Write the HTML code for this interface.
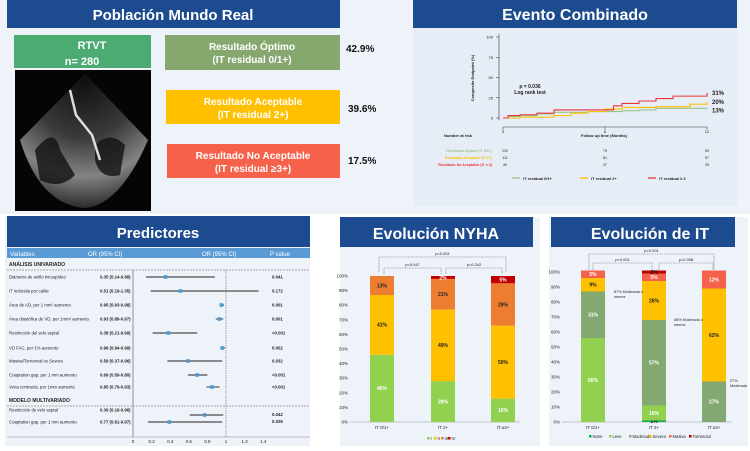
<!DOCTYPE html>
<html><head><meta charset="utf-8"><style>
body{margin:0;width:750px;height:446px;overflow:hidden;background:#fff;font-family:"Liberation Sans",sans-serif}
svg text{font-family:"Liberation Sans",sans-serif}
</style></head><body>
<svg id="s" width="750" height="446" viewBox="0 0 750 446" xmlns="http://www.w3.org/2000/svg">
<defs>
<radialGradient id="fan" cx="0.5" cy="0.05" r="0.95">
<stop offset="0" stop-color="#111"/><stop offset="0.45" stop-color="#444"/><stop offset="0.75" stop-color="#9a9a9a"/><stop offset="1" stop-color="#333"/>
</radialGradient>
</defs>
<rect x="0" y="0" width="750" height="214" fill="#eef3fa"/>
<!-- Panel 1 -->
<rect x="7" y="0" width="333" height="28" fill="#1d4b8f"/>
<text x="173" y="20" font-size="15" font-weight="bold" fill="#fff" text-anchor="middle">Población Mundo Real</text>
<rect x="14" y="35" width="137" height="33" fill="#4caa73"/>
<text x="92" y="49" font-size="11" font-weight="bold" fill="#fff" text-anchor="middle">RTVT</text>
<text x="82" y="65" font-size="11" font-weight="bold" fill="#fff" text-anchor="middle">n= 280</text>
<rect x="15" y="70" width="136" height="141" fill="#050505"/>
<path d="M85 74 L148 140 Q120 205 85 208 Q40 205 20 140 Z" fill="url(#fan)" opacity="0.85"/>
<path d="M35 150 Q55 125 60 150 L75 175 Q60 190 40 180 Z M95 145 Q110 130 125 145 L120 175 Q100 180 95 160 Z" fill="#111" opacity="0.8"/>
<path d="M70 90 L76 115 L92 135 L100 160" stroke="#ddd" stroke-width="2.5" fill="none"/>
<rect x="165" y="35" width="175" height="35" fill="#86a86f"/>
<text x="252" y="50" font-size="10" font-weight="bold" fill="#fff" text-anchor="middle">Resultado Óptimo</text>
<text x="252" y="63" font-size="10" font-weight="bold" fill="#fff" text-anchor="middle">(IT residual 0/1+)</text>
<text x="346" y="52" font-size="10" font-weight="bold" fill="#111">42.9%</text>
<rect x="166" y="90" width="174" height="34" fill="#ffc000"/>
<text x="253" y="105" font-size="10" font-weight="bold" fill="#fff" text-anchor="middle">Resultado Aceptable</text>
<text x="253" y="118" font-size="10" font-weight="bold" fill="#fff" text-anchor="middle">(IT residual 2+)</text>
<text x="348" y="112" font-size="10" font-weight="bold" fill="#111">39.6%</text>
<rect x="167" y="144" width="173" height="34" fill="#f5614a"/>
<text x="253" y="159" font-size="10" font-weight="bold" fill="#fff" text-anchor="middle">Resultado No Aceptable</text>
<text x="253" y="172" font-size="10" font-weight="bold" fill="#fff" text-anchor="middle">(IT residual ≥3+)</text>
<text x="348" y="164" font-size="10" font-weight="bold" fill="#111">17.5%</text>
<!-- Panel 2 -->
<rect x="413" y="28" width="324" height="178" fill="#e6edf7"/>
<rect x="413" y="0" width="324" height="28" fill="#1d4b8f"/>
<text x="575" y="20" font-size="16" font-weight="bold" fill="#fff" text-anchor="middle">Evento Combinado</text>
<g id="km"></g>
<!-- Bottom panels -->
<rect x="5" y="216" width="305" height="230" fill="#eef3fa"/>
<rect x="7" y="216" width="303" height="31" fill="#1d4b8f"/>
<text x="158" y="238" font-size="15" font-weight="bold" fill="#fff" text-anchor="middle">Predictores</text>
<rect x="7" y="248" width="303" height="10" fill="#5b9bd5"/>
<text x="10" y="256" font-size="6" fill="#fff">Variables</text>
<text x="88" y="256" font-size="6" fill="#fff">OR (95% CI)</text>
<text x="202" y="256" font-size="6" fill="#fff">OR (95% CI)</text>
<text x="270" y="256" font-size="6" fill="#fff">P value</text>
<text x="9" y="266" font-size="5" font-weight="bold" fill="#222">ANÁLISIS UNIVARIADO</text>
<line x1="7" y1="270" x2="310" y2="270" stroke="#555" stroke-width="0.6" stroke-dasharray="2,1"/>
<text x="9" y="402" font-size="5" font-weight="bold" fill="#222">MODELO MULTIVARIADO</text>
<line x1="7" y1="406" x2="310" y2="406" stroke="#555" stroke-width="0.6" stroke-dasharray="2,1"/>
<g id="forest"></g>

<rect x="340" y="217" width="200" height="229" fill="#eef3fa"/>
<rect x="340" y="217" width="193" height="30" fill="#1d4b8f"/>
<text x="436" y="239" font-size="16" font-weight="bold" fill="#fff" text-anchor="middle">Evolución NYHA</text>
<g id="nyha"></g>

<rect x="549" y="217" width="199" height="229" fill="#eef3fa"/>
<rect x="551" y="217" width="184" height="30" fill="#1d4b8f"/>
<text x="650" y="239" font-size="16" font-weight="bold" fill="#fff" text-anchor="middle">Evolución de IT</text>
<g id="itc"></g>
</svg>
<script>
const NS="http://www.w3.org/2000/svg";
function mk(p,t,a){const e=document.createElementNS(NS,t);for(const k in a)e.setAttribute(k,a[k]);p.appendChild(e);return e;}
function tx(p,x,y,s,o){const e=mk(p,'text',Object.assign({x:x,y:y,'font-size':5,fill:'#222'},o||{}));e.textContent=s;return e;}

// ===== KM chart data =====
const kmYTicks=[0,25,50,75,100];
const kmXTicks=[0,6,12];
const kmGreenT=[0,0.3,1,2,3,5,7,8,9,12];
const kmGreenV=[0,2,3,5,7,8,9,10,12,13];
const kmYellowT=[0,1,3,4,5,6,7,9,11,12];
const kmYellowV=[0,1,3,6,8,11,13,14,17,20];
const kmRedT=[0,0.3,1,2,3,6,6.5,7,8,9,10,12];
const kmRedV=[0,3,4,6,10,10,15,18,21,24,27,31];
const kmEndLabels=['13%','20%','31%'];
const riskGroups=['Resultado Óptimo (IT 0/1+)','Resultado Aceptable (IT 2+)','Resultado No Aceptable (IT ≥ 3)'];
const riskCounts=[[120,79,59],[111,81,57],[49,37,25]];
const kmX=m=>503+m*(204/12), kmY=v=>118-v*0.81;
const km=document.getElementById('km');
let e=mk(km,'line',{x1:499,y1:34,x2:499,y2:120,stroke:'#333','stroke-width':0.6});


e=mk(km,'line',{x1:503,y1:127,x2:707,y2:127,stroke:'#333','stroke-width':0.6});


kmYTicks.forEach(v=>{mk(km,'line',{x1:496,y1:kmY(v),x2:499,y2:kmY(v),stroke:'#333','stroke-width':0.5});
 e=tx(km,493,kmY(v)+1.5,v,{'font-size':4,'text-anchor':'end'});
 
 });
kmXTicks.forEach(m=>{mk(km,'line',{x1:kmX(m),y1:127,x2:kmX(m),y2:130,stroke:'#333','stroke-width':0.5});
 e=tx(km,kmX(m),133,m,{'font-size':4,'text-anchor':'middle'});
 
 });
e=tx(km,0,0,'Composite Endpoint (%)',{'font-size':4,'font-weight':'bold','text-anchor':'middle',transform:'translate(474,78) rotate(-90)'});


e=tx(km,604,137,'Follow up time (Months)',{'font-size':4,'font-weight':'bold','text-anchor':'middle'});


e=tx(km,458,137,'Number at risk',{'font-size':4,'font-weight':'bold','text-anchor':'middle'});


e=tx(km,530,88,'p = 0.036',{'font-size':5,'font-weight':'bold','text-anchor':'middle'});


e=tx(km,530,94,'Log rank test',{'font-size':5,'font-weight':'bold','text-anchor':'middle'});


const kmSeries=[[kmGreenT,kmGreenV,'#9cc48a'],[kmYellowT,kmYellowV,'#ffc000'],[kmRedT,kmRedV,'#e8363a']];
kmSeries.forEach((s,i)=>{let d='M'+kmX(s[0][0])+' '+kmY(s[1][0]);
 for(let j=1;j<s[0].length;j++){d+=' H'+kmX(s[0][j])+' V'+kmY(s[1][j]);}
 e=mk(km,'path',{d:d,stroke:s[2],'stroke-width':1.1,fill:'none'});
 
 });
const endY=[kmY(kmGreenV[kmGreenV.length-1])+5,kmY(kmYellowV[kmYellowV.length-1])+2,kmY(kmRedV[kmRedV.length-1])+2];
kmEndLabels.forEach((l,i)=>{e=tx(km,712,endY[i],l,{'font-size':6,'font-weight':'bold'});
 
 });
const riskCol=['#9cc48a','#ffc000','#e8363a'];
riskGroups.forEach((g,i)=>{const y=152+i*7;
 e=tx(km,492,y,g,{'font-size':3.6,'font-weight':'bold','text-anchor':'end',fill:riskCol[i]});
 
 
 riskCounts[i].forEach((c,j)=>{e=tx(km,[505,605,707][j],y,c,{'font-size':3.6,'text-anchor':'middle'});
 
 });});
const kmLeg=['IT residual 0/1+','IT residual 2+','IT residual ≥ 3'];
kmLeg.forEach((l,i)=>{const x=512+i*68;
 mk(km,'line',{x1:x,y1:178,x2:x+8,y2:178,stroke:riskCol[i],'stroke-width':1.3});
 e=tx(km,x+11,180,l,{'font-size':4,'font-weight':'bold'});
 
 });

// ===== Forest plot data =====
const fLabels=['Diámetro de anillo tricuspídeo','IT inducida por cable','Área de AD, per 1 mm² aumento','Área diastólica de VD, per 1mm² aumento','Restricción del velo septal','VD FAC, per 1% aumento','Masiva/Torrencial vs Severa','Coaptation gap, per 1 mm aumento','Vena contracta, per 1mm aumento','Restricción de velo septal','Coaptation gap, per 1 mm aumento'];
const fOR=[0.35,0.51,0.95,0.93,0.38,0.96,0.59,0.69,0.85,0.77,0.39];
const fLo=[0.14,0.19,0.93,0.89,0.21,0.94,0.37,0.59,0.79,0.61,0.16];
const fHi=[0.88,1.35,0.98,0.97,0.69,0.99,0.96,0.80,0.93,0.97,0.96];
const fText=['0.35 (0.14-0.88)','0.51 (0.19-1.35)','0.95 (0.93-0.98)','0.93 (0.89-0.97)','0.38 (0.21-0.69)','0.96 (0.94-0.99)','0.59 (0.37-0.96)','0.69 (0.59-0.80)','0.85 (0.79-0.93)','0.39 (0.16-0.96)','0.77 (0.61-0.97)'];
const fP=['0.041','0.172','0.001','0.001','<0.001','0.002','0.032','<0.001','<0.001','0.042','0.025'];
const fTicks=[0,0.2,0.4,0.6,0.8,1,1.2,1.4];
const fRowY=[277,291,305,319,333,348,361,375,387,415,422];
const fLabelY=[277,291,305,319,333,348,361,375,387,410,422];
const fx=v=>133+v*93;
const fo=document.getElementById('forest');
e=mk(fo,'line',{x1:133,y1:270,x2:133,y2:437,stroke:'#777','stroke-width':0.8});


e=mk(fo,'line',{x1:fx(1),y1:270,x2:fx(1),y2:437,stroke:'#444','stroke-width':0.5,'stroke-dasharray':'1.5,1'});


e=mk(fo,'line',{x1:7,y1:437,x2:310,y2:437,stroke:'#888','stroke-width':0.6});


fTicks.forEach(t=>{e=tx(fo,fx(t),443,t,{'font-size':4.5,'text-anchor':'middle'});
 
 });
fLabels.forEach((l,i)=>{const yl=fLabelY[i]+1.5,y=fRowY[i];
 e=tx(fo,9,yl,l,{'font-size':4.3});
 
 
 e=tx(fo,100,yl,fText[i],{'font-size':4.3,'font-weight':'bold'});
 
 
 e=tx(fo,272,(i<9?yl:[416,423][i-9]),fP[i],{'font-size':4.3,'font-weight':'bold'});
 
 
 e=mk(fo,'line',{x1:fx(fLo[i]),y1:y,x2:fx(fHi[i]),y2:y,stroke:'#222','stroke-width':0.9});
 
 
 e=mk(fo,'rect',{x:fx(fOR[i])-1.8,y:y-1.8,width:3.6,height:3.6,fill:'#4a9ad6'});
 
 });

// ===== Stacked bars =====
function stacked(gid,o){const g=document.getElementById(gid);
 const y=v=>o.y0-v*(o.y0-o.y100)/100;
 for(let t=0;t<=100;t+=10){e=tx(g,o.ax-2,y(t)+1.5,t+'%',{'font-size':4.5,'text-anchor':'end'});
 
 }
 e=mk(g,'line',{x1:o.ax,y1:o.y0,x2:o.ax+170,y2:o.y0,stroke:'#999','stroke-width':0.5});
 
 
 o.cats.forEach((c,i)=>{let acc=0;const x=o.bx[i];
  o.vals[i].forEach((v,k)=>{if(!v)return;const y1=y(acc+v),y2=y(acc);
   e=mk(g,'rect',{x:x,y:y1,width:o.bw,height:y2-y1,fill:o.colors[k]});
   
   
   e=tx(g,x+o.bw/2,(y1+y2)/2+1.8,v+'%',{'font-size':5,'font-weight':'bold','text-anchor':'middle',fill:o.txt[k]});
   
   
   acc+=v;});
  e=tx(g,x+o.bw/2,o.y0+7,c,{'font-size':4.5,'text-anchor':'middle'});
  
  });
 o.br.forEach(b=>{const c=b.x1+(b.x2-b.x1)/2;
  e=mk(g,'path',{d:`M${b.x1} ${b.yb} V${b.y} H${b.x2} V${b.yb}`,stroke:'#888','stroke-width':0.6,fill:'none','stroke-dasharray':'2,0.6'});
  
  
  e=tx(g,c,b.y-2,b.t,{'font-size':4,'text-anchor':'middle'});
  
  });
 o.leg.forEach((l,k)=>{const x=o.lx+k*o.ls;
  e=mk(g,'rect',{x:x,y:o.ly-3,width:2.5,height:2.5,fill:o.colors[k]});
  
  
  e=tx(g,x+3.5,o.ly,l,{'font-size':4.2});
  
  });
 return {g:g,y:y};}

const nyhaCats=['IT 0/1+','IT 2+','IT ≥3+'];
const nyhaLevels=['I','II','III','IV'];
const nyhaI=[46,28,16];
const nyhaII=[41,49,50];
const nyhaIII=[13,21,29];
const nyhaIV=[0,2,5];
stacked('nyha',{cats:nyhaCats,vals:nyhaCats.map((c,i)=>[nyhaI[i],nyhaII[i],nyhaIII[i],nyhaIV[i]]),
 colors:['#92d050','#ffc000','#ed7d31','#c00000'],txt:['#fff','#222','#222','#fff'],
 ax:350,y0:422,y100:276,bx:[370,431,491],bw:24,leg:nyhaLevels,lx:427,ls:7,ly:440,
 br:[{x1:379,x2:506,y:257,yb:272,t:'p<0.001'},{x1:384,x2:441,y:268,yb:274,t:'p=0.047'},{x1:446,x2:502,y:268,yb:274,t:'p=0.242'}]});

const itCats=['IT 0/1+','IT 2+','IT ≥3+'];
const itLevels=['None','Leve','Moderada','Severa','Masiva','Torrencial'];
const itNone=[0,1,0];
const itLeve=[56,10,0];
const itModerada=[31,57,27];
const itSevera=[9,26,62];
const itMasiva=[5,5,12];
const itTorrencial=[0,2,0];
const r=stacked('itc',{cats:itCats,vals:itCats.map((c,i)=>[itNone[i],itLeve[i],itModerada[i],itSevera[i],itMasiva[i],itTorrencial[i]]),
 colors:['#00b050','#92d050','#84a871','#ffc000','#f5614a','#c00000'],txt:['#222','#fff','#fff','#222','#fff','#222'],
 ax:562,y0:422,y100:272,bx:[581,642,702],bw:24,leg:itLevels,lx:589,ls:20,ly:438,
 br:[{x1:589,x2:714,y:254,yb:270,t:'p<0.001'},{x1:593,x2:652,y:263,yb:270,t:'p<0.001'},{x1:659,x2:713,y:263,yb:270,t:'p=0.008'}]});
const itAnn=[['87% Moderada o','menos',614,293],['68% Moderada o','menos',674,321],['27%','Moderada',730,382]];
itAnn.forEach(a=>{e=tx(r.g,a[2],a[3],a[0],{'font-size':3.8});
 
 
 tx(r.g,a[2],a[3]+5,a[1],{'font-size':3.8});});
</script>
</body></html>
